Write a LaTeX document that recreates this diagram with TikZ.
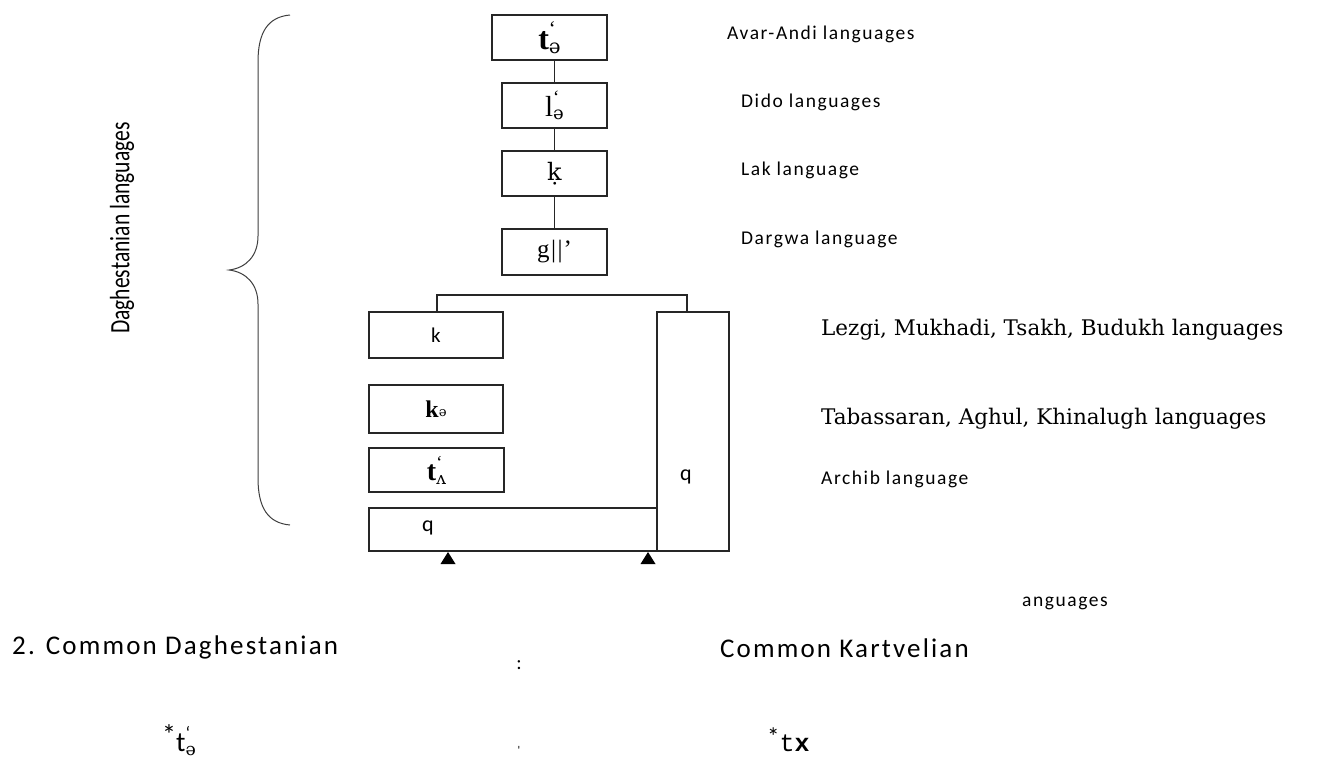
\documentclass[tikz,border=0pt]{standalone}
\usepackage{fontspec}
\usepackage{graphicx}
\setmainfont{Liberation Serif}
\newfontfamily\labfnt[LetterSpace=8]{Carlito}
\newfontfamily\bigfnt[LetterSpace=8]{Carlito}
\newfontfamily\plainsans{Carlito}
\newfontfamily\dvserif{DejaVu Serif}
\newfontfamily\ipafnt{DejaVu Serif}
\newfontfamily\monofnt{Liberation Mono}
\newcommand\supsub[2]{\rlap{\raisebox{0.45em}{\scalebox{0.65}{#1}}}\raisebox{-0.12em}{\scalebox{0.62}{#2}}}
\begin{document}
\begin{tikzpicture}[x=1pt,y=-1pt,
  gbox/.style={draw=black!85, line width=1.2pt, inner sep=0pt, anchor=center},
  conn/.style={draw=black!85, line width=1.2pt},
  lab/.style={anchor=west, inner sep=0pt, font=\labfnt\fontsize{19.5}{21}\selectfont},
  serlab/.style={anchor=west, inner sep=0pt, font=\dvserif\fontsize{21.5}{23}\selectfont},
  biglab/.style={anchor=west, inner sep=0pt, font=\bigfnt\fontsize{27}{30}\selectfont},
  glyph/.style={font=\fontsize{#1}{#1}\selectfont}]
\useasboundingbox (0,0) rectangle (1329,758);
\fill[white] (0,0) rectangle (1329,758);

% brace
\draw[line width=1pt, black!75] (290,15) .. controls (268,17) and (258,32) .. (258,62)
  -- (258,236) .. controls (258,256) and (246,268) .. (229,270)
  .. controls (246,272) and (258,284) .. (258,304)
  -- (258,478) .. controls (258,508) and (268,523) .. (290,525);
\node[rotate=90, inner sep=0pt] (dl) at (122,228)
  {\plainsans\fontsize{28}{30}\selectfont\scalebox{0.77}[1]{Daghestanian languages}};

% upper chain
\node[gbox, minimum width=115pt, minimum height=45pt, glyph=32] (b1) at (549.5,37.5)
  {\textbf{t}\supsub{‘}{\ipafnt ə}};
\node[gbox, minimum width=105pt, minimum height=45pt, glyph=29] (b2) at (554.5,105.5)
  {l\supsub{‘}{\ipafnt ə}};
\node[gbox, minimum width=105pt, minimum height=45pt, glyph=24] (b3) at (554.5,173.5)
  {\ipafnt ḳ};
\node[gbox, minimum width=105pt, minimum height=46pt, glyph=25] (b4) at (554.5,252)
  {g\kern1.5pt|\kern1.5pt|\kern1pt’};
\draw[conn] (b2.north) -- (b2.north |- b1.south);
\draw[conn] (b2.south) -- (b3.north);
\draw[conn] (b3.south) -- (b4.north);

% lower group
\node[gbox, minimum width=134pt, minimum height=46pt, glyph=21] (b5) at (436,335)
  {\plainsans k};
\node[gbox, minimum width=134pt, minimum height=48pt, glyph=24] (b6) at (436,409)
  {\textbf{k}\raisebox{0.05em}{\scalebox{0.55}{\ipafnt ə}}};
\node[gbox, minimum width=135pt, minimum height=44pt, glyph=28] (b7) at (436.5,470)
  {\textbf{t}\supsub{‘}{\ipafnt ʌ}};
\node[gbox, minimum width=288pt, minimum height=43pt] (qw) at (513,529.5) {};
\node[gbox, minimum width=72pt, minimum height=239pt] (qt) at (693,431.5) {};
\node[glyph=22, inner sep=0pt] (qwl) at (428,528) {\plainsans q};
\node[glyph=22, inner sep=0pt] (qtl) at (686,477) {\plainsans q};

\coordinate (bl) at (437,295);
\coordinate (br) at (687,295);
\draw[conn] (b5.north -| bl) -- (bl) -- (br) -- (qt.north -| br);

% arrow heads under q box
\coordinate (t1) at (448,552);
\coordinate (t2) at (648,552);
\fill[black] (t1) -- ++(-7.5,12) -- ++(15,0) -- cycle;
\fill[black] (t2) -- ++(-7.5,12) -- ++(15,0) -- cycle;

% right labels
\node[lab] (l1) at (727,34) {Avar-Andi languages};
\node[lab] (l2) at (741,102) {Dido languages};
\node[lab] (l3) at (741,170) {Lak language};
\node[lab] (l4) at (741,239) {Dargwa language};
\node[serlab] (l5) at (821,330) {Lezgi, Mukhadi, Tsakh, Budukh languages};
\node[serlab] (l6) at (821,419) {Tabassaran, Aghul, Khinalugh languages};
\node[lab] (l7) at (821,479) {Archib language};
\node[lab] (l8) at (1022,603) {anguages};

% bottom
\node[biglab] (c1) at (12,647) {2. Common Daghestanian};
\node[biglab] (c2) at (720,648) {Common Kartvelian};
\node[inner sep=0pt, font=\plainsans\fontsize{20}{20}\selectfont] (colon) at (519,665) {:};
\node[inner sep=0pt, font=\plainsans\fontsize{12}{12}\selectfont] (tick) at (519,750) {'};
\node[anchor=west, inner sep=0pt, font=\plainsans\fontsize{28}{29}\selectfont] (f1) at (162,740)
  {\raisebox{0.25em}{*}t\supsub{‘}{\ipafnt ə}};
\node[anchor=west, inner sep=0pt, font=\fontsize{25}{27}\selectfont] (f2) at (767,740)
  {{\plainsans\raisebox{0.25em}{*}}{\monofnt t\textbf{x}}};
\end{tikzpicture}
\end{document}
